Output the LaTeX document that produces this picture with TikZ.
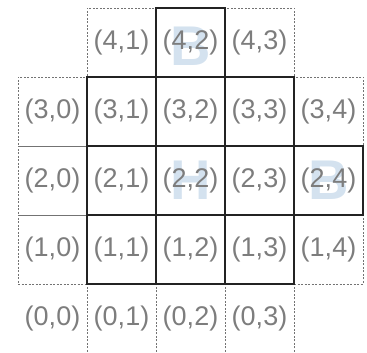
\documentclass[tikz,border=0pt]{standalone}
\usepackage{fontspec}
\setmainfont{Liberation Sans}
\definecolor{labelgray}{RGB}{125,125,125}
\definecolor{gridline}{RGB}{35,35,35}
\definecolor{dashgray}{RGB}{115,115,115}
\definecolor{markblue}{RGB}{212,226,239}
% one cell of the grid: style, row, column, name
\newcommand{\gcell}[4]{%
  \node[#1] (#4) at (#3+0.5,#2+0.5) {(#2,#3)};}

\begin{document}
\begin{tikzpicture}[x=69pt, y=69pt,
  cellbox/.style={minimum size=69pt, inner sep=0pt, text=labelgray,
                  font=\fontsize{27}{27}\selectfont},
  solidcell/.style={cellbox, draw=gridline, line width=1.4pt},
  dashcell/.style={cellbox, draw=dashgray, line width=0.9pt, dash pattern=on 2pt off 1.5pt},
  plaincell/.style={cellbox},
  wmark/.style={text=markblue, font=\fontsize{56}{56}\selectfont\bfseries},
]
\useasboundingbox (-18pt,0) rectangle (349pt,353pt);

% ---- Faint letters behind the grid ----
\node[wmark] (wB1) at (2.5,4.45) {B};
\node[wmark] (wH)  at (2.5,2.5) {H};
\node[wmark] (wB2) at (4.5,2.5) {B};

% ---- Dashed outer cells ----
\foreach \r/\c in {4/1, 4/3, 3/0, 3/4, 2/0, 1/0, 1/4, 0/1, 0/2, 0/3}
  {\gcell{dashcell}{\r}{\c}{c\r\c}}
\gcell{plaincell}{0}{0}{c00}   % no frame round (0,0)

% ---- Solid inner cells (drawn last, over the dashes) ----
\foreach \r/\c in {4/2, 3/1, 3/2, 3/3, 2/1, 2/2, 2/3, 2/4, 1/1, 1/2, 1/3}
  {\gcell{solidcell}{\r}{\c}{c\r\c}}
\end{tikzpicture}
\end{document}
